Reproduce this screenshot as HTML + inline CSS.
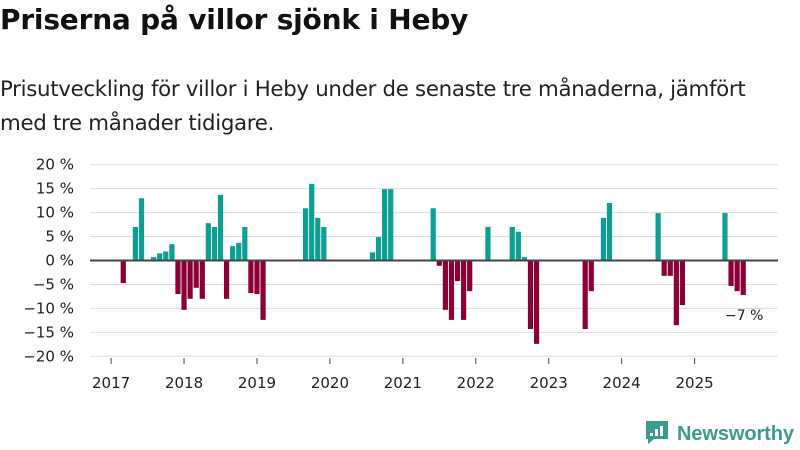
<!DOCTYPE html>
<html><head><meta charset="utf-8"><style>
body{margin:0;background:#fff;font-family:"Liberation Sans","DejaVu Sans",sans-serif;}
#wrap{position:relative;width:800px;height:450px;overflow:hidden;}
h1{position:absolute;left:0;top:3px;margin:0;font-size:28px;font-weight:bold;color:#111;font-family:"DejaVu Sans",sans-serif;letter-spacing:-0.2px}
p{position:absolute;left:0;top:73px;margin:0;font-size:21.3px;line-height:34px;color:#222;font-family:"DejaVu Sans",sans-serif;width:785px;letter-spacing:-0.3px}
svg{position:absolute;left:0;top:0}
text{font-family:"DejaVu Sans",sans-serif;}
</style></head><body><div id="wrap">
<h1>Priserna på villor sjönk i Heby</h1>
<p>Prisutveckling för villor i Heby under de senaste tre månaderna, jämfört med tre månader tidigare.</p>
<svg id="c" width="800" height="450"></svg>
</div>
<script>
const monthIndex=[2,4,5,7,8,9,10,11,12,13,14,15,16,17,18,19,20,21,22,23,24,25,32,33,34,35,43,44,45,46,53,54,55,56,57,58,59,62,66,67,68,69,70,78,79,81,82,90,91,92,93,94,101,102,103,104];
const values=[-4.7,7,13,0.7,1.5,1.9,3.4,-7,-10.3,-8,-5.7,-8,7.8,7,13.7,-8,3,3.7,7,-6.8,-7,-12.4,10.9,16,8.9,7,1.7,4.9,14.9,14.9,10.9,-1.1,-10.3,-12.4,-4.3,-12.4,-6.4,7,7,6,0.7,-14.3,-17.4,-14.3,-6.4,8.9,12,9.9,-3.2,-3.2,-13.5,-9.3,9.9,-5.3,-6.4,-7.2];
const yTicks=[20,15,10,5,0,-5,-10,-15,-20];
const years=[2017,2018,2019,2020,2021,2022,2023,2024,2025];
const NS="http://www.w3.org/2000/svg";
const svg=document.getElementById('c');
const y=v=>260.5-v*4.79;
const x=i=>111.1+i*6.078;
function el(t,a,txt){const e=document.createElementNS(NS,t);for(const k in a)e.setAttribute(k,a[k]);if(txt!=null)e.textContent=txt;svg.appendChild(e);return e;}
yTicks.forEach(t=>{
 const g=el('line',{x1:90,x2:778,y1:y(t),y2:y(t),stroke:t===0?'#444':'#ddd','stroke-width':t===0?2:1});
 
 
 const l=el('text',{x:74,y:y(t)+5,'text-anchor':'end','font-size':15,fill:'#222'},(t<0?'−'+(-t):t)+' %');
 
 
});
years.forEach((yr,k)=>{
 const xx=x(k*12);
 const tk=el('line',{x1:xx,x2:xx,y1:358,y2:364,stroke:'#444'});
 
 
 const l=el('text',{x:xx,y:388,'text-anchor':'middle','font-size':15,fill:'#222'},yr);
 
 
});
values.forEach((v,j)=>{
 const xc=x(monthIndex[j]);
 const h=Math.abs(y(v)-y(0));
 const r=el('rect',{x:xc-2.6,y:v>=0?y(v):y(0)+1,width:5.2,height:Math.max(h-1,0.5),fill:v>=0?'#0e9f94':'#8c0038'});
 
 
});
const last=values.length-1;
const lab=el('text',{x:x(monthIndex[last])+1,y:y(values[last])+25,'text-anchor':'middle','font-size':14,fill:'#222'},'−'+Math.round(-values[last])+' %');


const lg=el('g',{});


const ic=document.createElementNS(NS,'path');
ic.setAttribute('d','M646 421h22v18h-14l-6 5v-5h-2z');
ic.setAttribute('fill','#3a9c8f');
lg.appendChild(ic);
[[650,433,3,3],[655,429,3,7],[660,426,3,10]].forEach(b=>{const r=document.createElementNS(NS,'rect');r.setAttribute('x',b[0]);r.setAttribute('y',b[1]);r.setAttribute('width',b[2]);r.setAttribute('height',b[3]);r.setAttribute('fill','#fff');lg.appendChild(r);});
const tx=document.createElementNS(NS,'text');
tx.setAttribute('x',677);tx.setAttribute('y',440);tx.setAttribute('font-size',20);tx.setAttribute('fill','#3a9c8f');tx.setAttribute('font-weight','bold');
tx.setAttribute('style','font-family:"Liberation Sans",sans-serif');
tx.setAttribute('textLength','117');
tx.textContent='Newsworthy';
lg.appendChild(tx);
svg.appendChild(lg);
</script></body></html>
